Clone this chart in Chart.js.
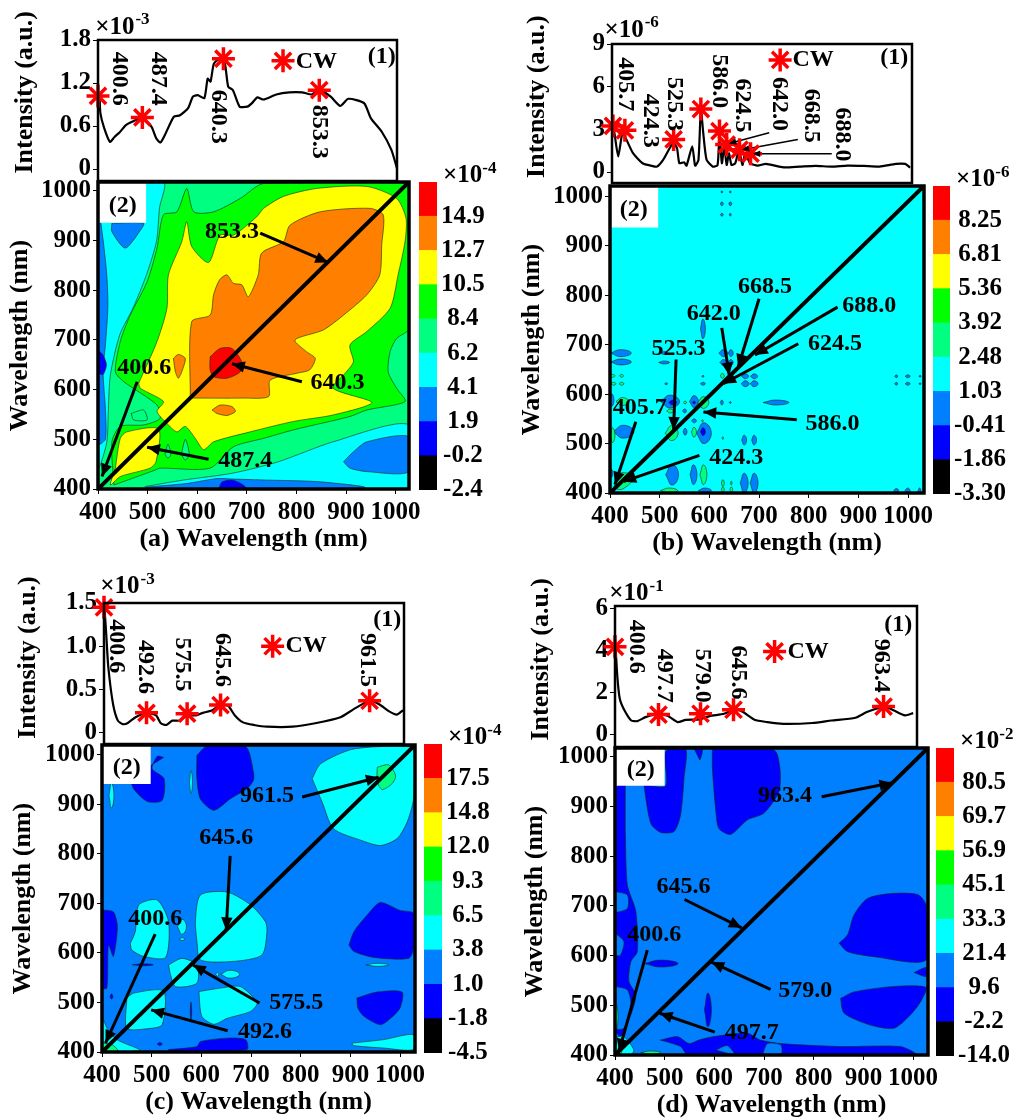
<!DOCTYPE html>
<html>
<head>
<meta charset="utf-8">
<title>Wavelength maps</title>
<script src="https://cdn.jsdelivr.net/npm/chart.js@4"></script>
<style>
  html, body { margin: 0; padding: 0; background: #fff; }
  #page { position: relative; width: 1014px; height: 1119px; overflow: hidden; }
  canvas { position: absolute; }
</style>
</head>
<body>
<div id="page"></div>
<script>
const FONT = 'Liberation Serif';
const wavelengthTicks = [400, 500, 600, 700, 800, 900, 1000];

const RED = '#ff0000', ORANGE = '#ff8000', YELLOW = '#ffff00', GREEN = '#00ff00';
const SPRING = '#00ff80', CYAN = '#00ffff', AZURE = '#0080ff', BLUE = '#0000ff', BLACK = '#000000';
const barColors = [BLACK, BLUE, AZURE, CYAN, SPRING, GREEN, YELLOW, ORANGE, RED];

// Colour bar labels, bottom to top
const barLabelsA = ['-2.4', '-0.2', '1.9', '4.1', '6.2', '8.4', '10.5', '12.7', '14.9'];
const barLabelsB = ['-3.30', '-1.86', '-0.41', '1.03', '2.48', '3.92', '5.36', '6.81', '8.25'];
const barLabelsC = ['-4.5', '-1.8', '1.0', '3.8', '6.5', '9.3', '12.0', '14.8', '17.5'];
const barLabelsD = ['-14.0', '-2.2', '9.6', '21.4', '33.3', '45.1', '56.9', '69.7', '80.5'];

// Spectra
const curveA = [[400,1.02],[403,1.01],[405,.78],[413,.57],[425,.38],[435,.45],[445,.51],[458,.61],[475,.67],[492,.71],[512,.59],[522,.43],[531,.37],[542,.50],[559,.73],[572,.75],[589,.85],[599,1.01],[609,1.03],[623,.99],[630,1.26],[636,1.22],[643,1.47],[656,1.54],[666,1.47],[673,1.15],[683,1.10],[697,.87],[713,.87],[723,.92],[734,1.00],[747,.97],[774,1.04],[801,1.07],[828,1.07],[848,1.04],[864,1.10],[888,1.01],[908,.88],[925,.98],[958,.92],[972,.71],[995,.52],[1015,.27],[1027,.01]];
const curveB = [[401,3.24],[405,2.76],[413,1.10],[422,2.76],[430,2.29],[444,1.33],[464,.62],[484,.43],[494,.38],[507,.86],[528,2.05],[536,1.69],[541,.62],[551,.69],[556,.45],[568,1.81],[574,.45],[581,.86],[586,4.4],[591,2.76],[598,.86],[611,.38],[621,.5],[625,2.76],[630,.62],[635,1.81],[640,.5],[645,1.33],[650,.5],[658,.62],[666,1.57],[673,.5],[679,1.33],[689,.62],[705,.45],[722,.57],[759,.33],[793,.38],[826,.43],[860,.38],[893,.45],[927,.43],[960,.38],[994,.57],[1014,.57],[1024,.31]];
const curveC = [[401,1.45],[405,1.11],[409,.76],[419,.33],[429,.14],[439,.10],[449,.11],[466,.18],[489,.23],[509,.20],[519,.11],[530,.09],[543,.14],[560,.14],[573,.20],[593,.20],[607,.23],[627,.26],[644,.33],[660,.31],[674,.20],[691,.12],[714,.09],[741,.07],[795,.07],[842,.11],[895,.18],[922,.27],[956,.37],[976,.33],[996,.25],[1013,.21],[1026,.26]];
const curveD = [[401,4.2],[405,2.71],[410,1.69],[420,1.13],[434,.66],[447,.63],[464,.82],[491,.98],[511,.87],[531,.58],[548,.69],[578,.71],[598,.87],[628,.98],[652,1.21],[668,1.06],[692,.69],[719,.58],[752,.50],[813,.54],[853,.66],[903,.79],[927,1.06],[964,1.32],[984,1.13],[1007,.90],[1024,1.01]];

// CW markers
const starsA = [[400,1.02],[493,.72],[663,1.54],[864,1.10]];
const starsB = [[402,3.24],[427,2.93],[529,2.29],[586,4.43],[625,2.88],[640,1.93],[667,1.57],[690,1.29]];
const starsC = [[400,1.45],[489,.23],[574,.22],[644,.32],[956,.37]];
const starsD = [[400,4.16],[491,.94],[579,.98],[648,1.17],[962,1.32]];

// Contour regions of map (a), painted in order
const mapA = [
  [CYAN, [[400,1018],[532,1018],[524,966],[518,899],[498,832],[471,765],[444,711],[425,630],[421,563],[418,496],[405,449],[400,442]]],
  [AZURE, [[400,945],[405,940],[417,840],[420,770],[415,690],[410,640],[415,560],[415,500],[400,490]]],
  [BLUE, [[400,680],[410,670],[417,650],[410,630],[400,636]]],
  [AZURE, [[428,935],[428,918],[455,885],[485,920],[492,935]]],
  [CYAN, [[495,405],[572,418],[672,432],[764,455],[874,495],[1027,529],[1027,400],[495,400]]],
  [AZURE, [[895,455],[915,475],[942,495],[1027,505],[1027,435],[942,435],[908,442]]],
  [AZURE, [[498,404],[578,411],[640,421],[673,420],[740,418],[840,415],[935,405],[941,400],[498,400]]],
  [BLUE, [[643,400],[650,414],[670,418],[690,410],[700,400]]],
  [GREEN, [[432,408],[428,495],[445,526],[492,529],[525,542],[519,569],[452,616],[435,636],[445,697],[465,750],[499,817],[519,885],[532,952],[559,958],[579,1005],[593,958],[633,958],[687,985],[734,1015],[1027,1015],[1027,723],[1002,703],[989,677],[985,636],[1002,603],[1019,576],[942,559],[908,546],[794,519],[734,502],[673,485],[626,442],[525,442],[515,438]]],
  [SPRING, [[467,552],[492,559],[499,539],[472,539]]],
  [YELLOW, [[482,613],[519,697],[539,764],[542,831],[569,898],[579,938],[589,888],[623,856],[646,911],[673,911],[720,948],[734,965],[774,989],[841,1005],[942,1009],[1002,985],[1021,945],[1019,898],[1005,831],[989,764],[942,717],[908,690],[915,656],[901,636],[874,603],[952,574],[874,549],[794,536],[707,515],[633,495],[613,479],[596,502],[576,526],[559,515],[539,532],[519,556],[532,576],[485,603]]],
  [YELLOW, [[435,442],[445,502],[458,515],[522,521],[517,455],[505,442],[445,425],[425,408]]],
  [SPRING, [[535,470],[541,490],[547,470],[541,462]]],
  [SPRING, [[568,470],[576,500],[584,470],[576,458]]],
  [ORANGE, [[586,583],[589,737],[626,750],[633,791],[645,821],[660,831],[673,814],[690,811],[703,787],[723,831],[730,875],[774,898],[787,931],[848,958],[948,965],[975,952],[972,891],[968,831],[942,791],[895,750],[854,720],[797,700],[821,676],[838,663],[827,640],[801,633],[747,619],[744,586],[693,583]]],
  [ORANGE, [[552,663],[562,671],[576,663],[569,636],[562,623],[556,636]]],
  [ORANGE, [[630,559],[646,569],[670,566],[677,556],[660,548],[640,552]]],
  [RED, [[626,666],[646,683],[670,683],[690,656],[687,636],[660,623],[633,626],[626,640]]]
];

// Small closed islands of map (b): centre x, centre y, half width, half height
const islandsBAzure = [[422,683,21,7],[422,665,21,6],[509,683,7,3],[509,664,11,3],[513,621,3,2],[403,588,5,13],[521,585,19,13],[569,585,9,12],[550,566,4,4],[569,546,5,4],[427,524,21,13],[551,524,4,7],[589,521,15,21],[670,507,5,10],[690,507,5,10],[525,437,13,21],[568,437,7,20],[670,420,8,20],[690,420,8,20],[591,405,13,5],[976,405,5,4],[999,405,5,5],[1023,405,3,5],[976,636,3,3],[999,636,5,3],[1024,636,2,2],[976,621,3,3],[999,621,5,3],[1024,621,2,2],[628,683,9,7],[643,683,5,7],[628,664,7,6],[643,664,5,6],[672,636,7,5],[690,636,7,5],[672,621,8,6],[690,621,8,6],[587,621,5,3],[587,636,2,2],[734,583,26,5],[625,583,3,5],[642,583,2,2],[587,732,5,20],[625,1009,2,2],[642,1009,2,2],[625,985,3,4],[642,985,3,4],[625,963,3,3],[642,963,2,3],[403,440,3,8]];
const islandsBSpring = [[405,637,5,3],[423,637,4,3],[407,621,5,3],[423,621,5,3],[425,585,13,8],[551,583,3,3],[588,583,11,12],[521,566,7,4],[586,546,2,2],[405,517,5,15],[524,521,13,15],[569,523,5,10],[627,511,1.5,3],[588,437,7,20],[627,420,3,7],[627,407,3,5],[644,420,1.5,4],[644,407,3,5],[519,405,17,5],[626,637,4,5]];
const islandsBBlue = [[526,583,8,5],[569,583,3,3],[587,524,5,8]];
const cornerB = [[407,410],[420,440],[444,437],[444,423],[423,407]];

// Map (c)
const mapC = [
  [CYAN, [[823,952],[840,982],[907,1012],[1027,1015],[1027,911],[1014,864],[994,831],[960,817],[920,828],[866,851],[843,905]]],
  [SPRING, [[954,975],[977,980],[991,958],[984,942],[964,930],[954,945]]],
  [BLUE, [[591,999],[610,1017],[689,1017],[705,965],[705,949],[692,932],[658,911],[625,888],[598,911],[591,952]]],
  [BLUE, [[524,995],[511,997],[501,972],[525,952],[521,908],[491,906],[464,931],[460,952]]],
  [CYAN, [[591,623],[588,663],[598,717],[652,723],[699,697],[729,663],[732,643],[722,596],[665,583],[598,586]]],
  [CYAN, [[457,619],[467,643],[474,697],[511,707],[534,663],[528,591],[484,593],[460,606]]],
  [CYAN, [[534,576],[561,589],[591,576],[591,539],[548,532],[538,556]]],
  [CYAN, [[450,509],[464,519],[524,523],[521,455],[491,447],[450,448]]],
  [CYAN, [[595,522],[638,529],[679,532],[712,499],[699,482],[652,468],[625,456],[601,472]]],
  [BLUE, [[897,616],[907,643],[934,677],[960,702],[1000,686],[1027,680],[1027,609],[1017,589],[947,591],[907,603]]],
  [BLUE, [[913,509],[953,521],[1004,521],[1000,489],[981,468],[960,455],[927,472],[915,489]]],
  [BLUE, [[400,687],[423,683],[431,653],[423,593],[413,616],[410,529],[400,529]]],
  [BLUE, [[534,405],[591,411],[598,421],[652,428],[689,425],[692,405],[534,400]]],
  [CYAN, [[400,475],[410,448],[430,425],[477,403],[400,400]]],
  [SPRING, [[400,418],[420,415],[432,403],[420,400],[400,400]]],
  [CYAN, [[903,418],[967,425],[1027,435],[1027,405],[967,408],[906,413]]]
];
const islandsCCyan = [[579,945,3,23],[419,918,5,25],[561,653,9,15],[561,628,5,3],[658,557,19,8],[632,557,3,4],[954,576,23,3]];
const islandsCBlue = [[482,576,21,2],[419,512,3,5],[516,416,5,3],[579,482,1.5,19]];

// Map (d)
const mapD = [
  [BLUE, [[401,1017],[418,1017],[421,843],[425,742],[442,689],[445,608],[432,588],[428,548],[442,521],[432,481],[411,437],[400,454]]],
  [AZURE, [[401,729],[425,722],[425,695],[401,689]]],
  [AZURE, [[401,645],[418,628],[411,601],[401,601]]],
  [AZURE, [[401,538],[425,531],[432,501],[418,454],[401,454]]],
  [CYAN, [[405,437],[418,437],[438,410],[432,401],[401,401]]],
  [BLUE, [[458,944],[472,866],[492,848],[519,850],[532,883],[539,957],[542,1017],[502,1011],[502,942]]],
  [BLUE, [[559,1017],[576,1017],[571,994],[566,1003]]],
  [BLUE, [[596,1017],[720,1014],[732,977],[730,930],[700,887],[666,873],[633,844],[609,856],[603,890],[596,977]]],
  [BLUE, [[851,625],[868,642],[881,682],[908,715],[955,725],[1009,723],[1026,702],[1026,591],[921,598],[868,608]]],
  [BLUE, [[854,514],[881,527],[962,538],[1026,536],[1015,507],[995,481],[962,454],[915,460],[861,484]]],
  [BLUE, [[1002,566],[1026,576],[1026,558]]],
  [BLUE, [[491,430],[526,437],[549,423],[569,430],[599,437],[666,444],[693,430],[734,423],[854,417],[975,417],[1005,401],[546,401],[532,417]]],
  [AZURE, [[603,410],[626,419],[640,401]]],
  [AZURE, [[697,401],[707,423],[734,420],[734,401]]]
];
const islandsDBlue = [[493,584,34,7],[587,491,7,34]];
const islandsDSpring = [[403,477,3,24],[472,405,20,3],[408,408,6,6]];
const islandsDDark = [[403,403,3,3]];

// Labels and arrows: [text, x, y] and [x0, y0, x1, y1], in wavelength units
const topTextA = [['400.6',445,1.26],['487.4',526,1.26],['640.3',653,.73],['853.3',864,.52]];
const topTextB = [['405.7',427,6.17],['424.3',479,3.6],['525.3',531,4.79],['586.0',625,6.38],['624.5',673,4.67],['642.0',749,4.79],['668.5',818,3.95],['688.0',882,2.64]];
const topTextC = [['400.6',426,1.0],['492.6',486,.76],['575.5',563,.79],['645.6',647,.84],['961.5',952,.84]];
const topTextD = [['400.6',444,4.16],['497.7',503,2.79],['579.0',583,2.79],['645.6',657,2.94],['963.4',957,3.26]];
const topArrowsB = [[729,2.76,645,2.0],[789,2.29,672,1.57],[860,1.29,695,1.29]];

const mapTextA = [['853.3',670,918],['640.3',883,613],['487.4',697,456],['400.6',493,644]];
const mapTextB = [['668.5',712,818],['688.0',922,779],['642.0',609,762],['624.5',853,701],['525.3',538,692],['586.0',848,539],['405.7',460,573],['424.3',654,472]];
const mapTextC = [['961.5',732,918],['645.6',650,833],['400.6',507,670],['575.5',791,499],['492.6',728,440]];
const mapTextD = [['963.4',742,922],['645.6',538,739],['400.6',479,642],['579.0',783,530],['497.7',675,444]];

const mapArrowsA = [[727,915,864,856],[811,616,670,652],[623,460,499,484],[479,616,408,425]];
const mapArrowsB = [[700,793,658,655],[858,776,692,679],[625,734,640,638],[779,702,628,621],[533,670,528,528],[776,548,588,564],[452,544,410,417],[580,476,427,423]];
const mapArrowsC = [[803,915,957,955],[658,796,650,646],[507,638,407,418],[717,499,583,576],[653,443,499,485]];
const mapArrowsD = [[816,920,958,948],[540,713,655,656],[465,611,408,407],[713,532,594,587],[601,446,490,484]];

const page = document.getElementById('page');

const addCanvas = (left, top, width, height) => {
  const canvas = document.createElement('canvas');
  canvas.width = width;
  canvas.height = height;
  canvas.style.left = left + 'px';
  canvas.style.top = top + 'px';
  canvas.style.width = width + 'px';
  canvas.style.height = height + 'px';
  page.appendChild(canvas);
  return canvas;
};

const toPoints = rows => rows.map(r => ({ x: r[0], y: r[1] }));

// Closed filled contour region
const region = (color, rows, tension) => ({
  data: toPoints(rows.concat([rows[0]])),
  showLine: true,
  fill: 'shape',
  backgroundColor: color,
  borderColor: 'rgba(20,40,20,0.75)',
  borderWidth: 0.8,
  pointRadius: 0,
  tension: tension === undefined ? 0.25 : tension
});

const island = (color, row) => region(color, [
  [row[0] - row[2], row[1]],
  [row[0], row[1] + row[3]],
  [row[0] + row[2], row[1]],
  [row[0], row[1] - row[3]]
], 0.5);

const stroke = (rows, width) => ({
  data: toPoints(rows),
  showLine: true,
  fill: false,
  borderColor: '#000',
  borderWidth: width,
  pointRadius: 0,
  tension: 0
});

const arrowLines = (arrows, width) => arrows.map(a => stroke([[a[0], a[1]], [a[2], a[3]]], width));

const frozenAxis = (s, size, isX) => {
  if (isX) { s.height = size; } else { s.width = size; }
  s.paddingLeft = s.paddingRight = s.paddingTop = s.paddingBottom = 0;
};

// Draws frame, arrow heads and text on top of the datasets
const overlay = {
  id: 'overlay',
  afterDatasetsDraw(chart, args, opts) {
    const { ctx, chartArea: a, scales: { x, y } } = chart;
    ctx.save();
    ctx.fillStyle = '#000';
    (opts.arrows || []).forEach(ar => {
      const x0 = x.getPixelForValue(ar[0]), y0 = y.getPixelForValue(ar[1]);
      const x1 = x.getPixelForValue(ar[2]), y1 = y.getPixelForValue(ar[3]);
      const ang = Math.atan2(y1 - y0, x1 - x0);
      const len = opts.headSize || 12;
      ctx.beginPath();
      ctx.moveTo(x1, y1);
      ctx.lineTo(x1 - len * Math.cos(ang - 0.42), y1 - len * Math.sin(ang - 0.42));
      ctx.lineTo(x1 - len * Math.cos(ang + 0.42), y1 - len * Math.sin(ang + 0.42));
      ctx.closePath();
      ctx.fill();
    });
    ctx.strokeStyle = '#000';
    ctx.lineWidth = opts.frame || 2;
    ctx.strokeRect(a.left, a.top, a.right - a.left, a.bottom - a.top);
    ctx.textBaseline = 'middle';
    (opts.notes || []).forEach(n => {
      ctx.save();
      ctx.translate(x.getPixelForValue(n.x), y.getPixelForValue(n.y));
      if (n.rot) ctx.rotate(n.rot);
      ctx.font = 'bold ' + (n.size || 24) + 'px "' + FONT + '"';
      ctx.textAlign = 'center';
      if (n.sup) {
        const w = ctx.measureText(n.text).width;
        ctx.font = 'bold 17px "' + FONT + '"';
        const sw = ctx.measureText(n.sup).width;
        ctx.fillText(n.sup, w / 2 + 1, -7);
        ctx.font = 'bold ' + (n.size || 24) + 'px "' + FONT + '"';
        ctx.fillText(n.text, -sw / 2, 0);
      } else {
        ctx.fillText(n.text, 0, 0);
      }
      ctx.restore();
    });
    ctx.restore();
  }
};

const tickFont = { family: FONT, weight: 'bold', size: 25 };
const setTicks = list => s => { s.ticks = list.map(v => ({ value: v })); };

const drawSpectrum = p => {
  const cLeft = p.titleX - 15;
  const width = p.plotRight + 3 - cLeft;
  const height = p.plotBottom + 16 - p.canvasTop;
  const canvas = addCanvas(cLeft, p.canvasTop, width, height);
  const CW = [[p.cwStar[0], p.cwStar[1]]];
  const notes = p.text.map(t => ({ text: t[0], x: t[1], y: t[2], rot: Math.PI / 2 }));
  notes.push({ text: 'CW', x: p.cwText[0], y: p.cwText[1] });
  notes.push({ text: '(1)', x: p.oneAt[0], y: p.oneAt[1] });
  notes.push({ text: 'Intensity (a.u.)', x: p.intensityAt[0], y: p.intensityAt[1], rot: -Math.PI / 2, size: 26 });
  notes.push({ text: '×10', sup: p.exp, x: p.expAt[0], y: p.expAt[1], size: 25 });
  new Chart(canvas, {
    type: 'scatter',
    data: {
      datasets: [
        { label: 'CW', data: toPoints(p.stars.concat(CW)), pointStyle: 'star', pointRadius: 11.5, borderColor: RED, borderWidth: 3.5, backgroundColor: RED, clip: false },
        ...arrowLines(p.arrows || [], 1.5),
        { label: 'Intensity', data: toPoints(p.curve), showLine: true, borderColor: '#000', borderWidth: 2.2, pointRadius: 0, tension: 0.2 }
      ]
    },
    options: {
      responsive: false,
      animation: false,
      events: [],
      layout: { padding: { top: p.plotTop - p.canvasTop, right: 3 } },
      plugins: {
        legend: { display: false },
        tooltip: { enabled: false },
        overlay: { notes, arrows: p.arrows || [], headSize: 8, frame: 2.5 }
      },
      scales: {
        x: {
          type: 'linear',
          min: 400,
          max: p.xMax,
          afterFit: s => frozenAxis(s, 16, true),
          grid: { display: false },
          border: { display: false },
          ticks: { display: false }
        },
        y: {
          min: p.yMin,
          max: p.yMax,
          afterBuildTicks: setTicks(p.ticks),
          afterFit: s => frozenAxis(s, p.plotLeft - cLeft, false),
          grid: { drawOnChartArea: false, color: '#000', tickLength: 5 },
          border: { display: false },
          ticks: { font: tickFont, color: '#000', padding: 2, callback: v => (p.tickLabels ? p.tickLabels[p.ticks.indexOf(v)] : v) }
        }
      }
    },
    plugins: [overlay]
  });
};

const drawMap = p => {
  const cLeft = p.titleX - 15;
  const canvas = addCanvas(cLeft, p.plotTop - 3, p.plotRight + 30 - cLeft, p.plotBottom - p.plotTop + 3 + 66);
  const boxed = region('#ffffff', [[400, p.yMax], [p.boxX, p.yMax], [p.boxX, p.boxY], [400, p.boxY]], 0);
  boxed.borderWidth = 0;
  const notes = p.text.map(t => ({ text: t[0], x: t[1], y: t[2] }));
  notes.push({ text: '(2)', x: p.twoAt[0], y: p.twoAt[1] });
  // Chart.js paints the last dataset first
  const painted = [
    region(p.base, [[400, 400], [p.xMax, 400], [p.xMax, p.yMax], [400, p.yMax]], 0),
    ...p.layers,
    boxed,
    stroke([[400, 400], [p.xMax, p.yMax]], 4),
    ...arrowLines(p.arrows, 3)
  ];
  new Chart(canvas, {
    type: 'scatter',
    data: { datasets: painted.reverse() },
    options: {
      responsive: false,
      animation: false,
      events: [],
      layout: { padding: { top: 3, right: 30 } },
      plugins: {
        legend: { display: false },
        tooltip: { enabled: false },
        overlay: { notes, arrows: p.arrows, headSize: 14, frame: 3.5 }
      },
      scales: {
        x: {
          type: 'linear',
          min: 400,
          max: p.xMax,
          afterBuildTicks: setTicks(wavelengthTicks),
          afterFit: s => frozenAxis(s, 66, true),
          grid: { drawOnChartArea: false, color: '#000', tickLength: 5 },
          border: { display: false },
          ticks: { font: tickFont, color: '#000', padding: 4, maxRotation: 0, autoSkip: false, callback: v => String(v) },
          title: { display: true, text: p.xTitle, color: '#000', padding: 0, font: { family: FONT, weight: 'bold', size: 26 } }
        },
        y: {
          min: 400,
          max: p.yMax,
          afterBuildTicks: setTicks(wavelengthTicks),
          afterFit: s => frozenAxis(s, p.plotLeft - cLeft, false),
          grid: { drawOnChartArea: false, color: '#000', tickLength: 5 },
          border: { display: false },
          ticks: { font: tickFont, color: '#000', padding: 2, autoSkip: false, callback: v => String(v) },
          title: { display: true, text: 'Wavelength (nm)', color: '#000', padding: 0, font: { family: FONT, weight: 'bold', size: 26 } }
        }
      }
    },
    plugins: [overlay]
  });
};

const drawBar = p => {
  const barW = p.right - p.left;
  const canvas = addCanvas(p.left, p.top - 30, 1014 - p.left, p.bottom - p.top + 60);
  new Chart(canvas, {
    type: 'bar',
    data: {
      labels: [''],
      datasets: barColors.map(c => ({ data: [1], backgroundColor: c, barPercentage: 1, categoryPercentage: 1 }))
    },
    options: {
      responsive: false,
      animation: false,
      events: [],
      layout: { padding: { top: 30, bottom: 30 } },
      plugins: { legend: { display: false }, tooltip: { enabled: false } },
      scales: {
        x: { stacked: true, display: false },
        y: {
          stacked: true,
          position: 'right',
          min: 0,
          max: 9,
          afterBuildTicks: setTicks([0, 1, 2, 3, 4, 5, 6, 7, 8]),
          afterFit: s => frozenAxis(s, 1014 - p.left - barW, false),
          grid: { display: false, drawTicks: false },
          border: { display: false },
          ticks: { font: tickFont, color: '#000', padding: 4, crossAlign: 'center', callback: v => p.labels[v] }
        }
      }
    },
    plugins: [{
      id: 'exponent',
      afterDraw(chart) {
        const { ctx, chartArea: a } = chart;
        ctx.save();
        ctx.fillStyle = '#000';
        ctx.textBaseline = 'middle';
        ctx.textAlign = 'left';
        ctx.font = 'bold 25px "' + FONT + '"';
        ctx.fillText('×10', a.right + 6, a.top - 6);
        const w = ctx.measureText('×10').width;
        ctx.font = 'bold 17px "' + FONT + '"';
        ctx.fillText(p.exp, a.right + 6 + w, a.top - 13);
        ctx.restore();
      }
    }]
  });
};

const islands = (color, rows) => rows.map(r => island(color, r));

// Panel (a)
drawSpectrum({ canvasTop: 0, titleX: 22, plotLeft: 98, plotRight: 409, plotTop: 40, plotBottom: 181, xMax: 1027, yMin: -0.167, yMax: 1.8, ticks: [0, 0.6, 1.2, 1.8], tickLabels: ['0', '0.6', '1.2', '1.8'], curve: curveA, stars: starsA, text: topTextA, cwStar: [788, 1.51], cwText: [858, 1.5], oneAt: [995, 1.56], intensityAt: [247, 1.07], exp: '-3', expAt: [450, 1.98] });
drawMap({ titleX: 20, plotLeft: 98, plotRight: 409, plotTop: 182, plotBottom: 489, xMax: 1027, yMax: 1018, boxX: 497, boxY: 936, base: SPRING, layers: mapA.map(l => region(l[0], l[1])), text: mapTextA, arrows: mapArrowsA, twoAt: [450, 970], xTitle: '(a) Wavelength (nm)' });
drawBar({ left: 419, right: 437, top: 182, bottom: 490, labels: barLabelsA, exp: '-4' });

// Panel (b)
drawSpectrum({ canvasTop: 0, titleX: 534, plotLeft: 612, plotRight: 924, plotTop: 44, plotBottom: 183, xMax: 1028, yMin: -0.77, yMax: 9, ticks: [0, 3, 6, 9], curve: curveB, stars: starsB, text: topTextB, arrows: topArrowsB, cwStar: [752, 7.88], cwText: [821, 7.88], oneAt: [991, 8], intensityAt: [243, 5.3], exp: '-6', expAt: [440, 9.98] });
drawMap({ titleX: 532, plotLeft: 610, plotRight: 924, plotTop: 186, plotBottom: 493, xMax: 1032, yMax: 1021, boxX: 497, boxY: 937, base: CYAN, layers: [...islands(AZURE, islandsBAzure), ...islands(SPRING, islandsBSpring), ...islands(BLUE, islandsBBlue), region(SPRING, cornerB)], text: mapTextB, arrows: mapArrowsB, twoAt: [448, 972], xTitle: '(b) Wavelength (nm)' });
drawBar({ left: 933, right: 950, top: 186, bottom: 494, labels: barLabelsB, exp: '-6' });

// Panel (c)
drawSpectrum({ canvasTop: 570, titleX: 25, plotLeft: 104, plotRight: 416, plotTop: 603, plotBottom: 744, xMax: 1028, yMin: -0.13, yMax: 1.5, ticks: [0, 0.5, 1, 1.5], tickLabels: ['0', '0.5', '1.0', '1.5'], curve: curveC, stars: starsC, text: topTextC, cwStar: [753, 1.0], cwText: [823, 1.0], oneAt: [993, 1.31], intensityAt: [241, 0.87], exp: '-3', expAt: [448, 1.69] });
drawMap({ titleX: 23, plotLeft: 102, plotRight: 415, plotTop: 745, plotBottom: 1052, xMax: 1030, yMax: 1020, boxX: 498, boxY: 941, base: AZURE, layers: [...mapC.map(l => region(l[0], l[1])), ...islands(CYAN, islandsCCyan), ...islands(BLUE, islandsCBlue)], text: mapTextC, arrows: mapArrowsC, twoAt: [450, 974], xTitle: '(c) Wavelength (nm)' });
drawBar({ left: 424, right: 442, top: 744, bottom: 1053, labels: barLabelsC, exp: '-4' });

// Panel (d)
drawSpectrum({ canvasTop: 570, titleX: 538, plotLeft: 615, plotRight: 929, plotTop: 606, plotBottom: 747, xMax: 1032, yMin: -0.6, yMax: 6.1, ticks: [0, 2, 4, 6], curve: curveD, stars: starsD, text: topTextD, cwStar: [734, 3.94], cwText: [804, 3.94], oneAt: [993, 5.23], intensityAt: [245, 3.57], exp: '-1', expAt: [444, 6.71] });
drawMap({ titleX: 535, plotLeft: 615, plotRight: 928, plotTop: 748, plotBottom: 1055, xMax: 1030, yMax: 1018, boxX: 500, boxY: 942, base: AZURE, layers: [...mapD.map(l => region(l[0], l[1])), ...islands(BLUE, islandsDBlue), ...islands(SPRING, islandsDSpring), ...islands('#402000', islandsDDark)], text: mapTextD, arrows: mapArrowsD, twoAt: [452, 975], xTitle: '(d) Wavelength (nm)' });
drawBar({ left: 936, right: 954, top: 748, bottom: 1056, labels: barLabelsD, exp: '-2' });
</script>
</body>
</html>
